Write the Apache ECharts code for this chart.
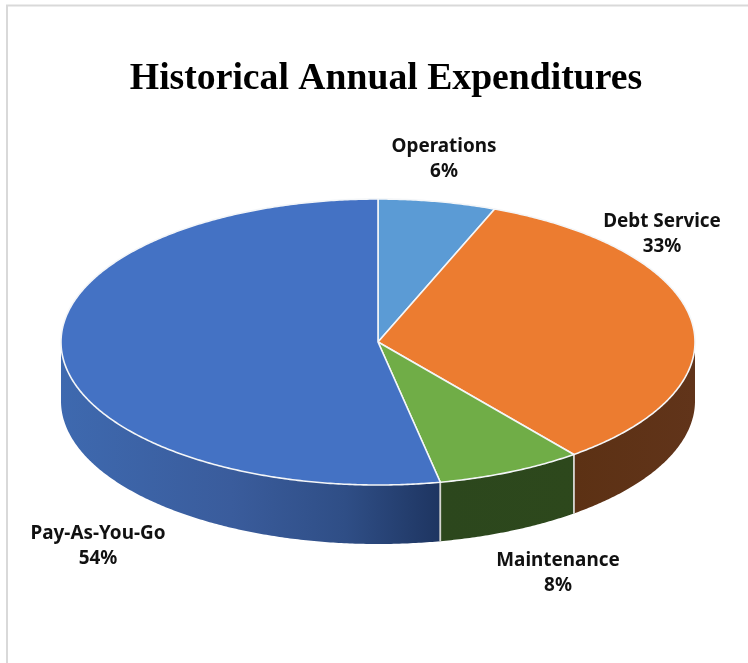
<!DOCTYPE html>
<html><head><meta charset="utf-8">
<style>html,body{margin:0;padding:0;background:#fff}#c{width:748px;height:663px}</style>
<script src="https://cdn.jsdelivr.net/npm/echarts@6/dist/echarts.min.js"></script>
</head><body><div id="c"></div>
<script>
const categories = ['Operations', 'Debt Service', 'Maintenance', 'Pay-As-You-Go'];
// slice sizes
const sliceValues = [6.0, 33.4, 7.45, 53.15];
// percentages as printed on the chart
const printedPercent = ['6%', '33%', '8%', '54%'];
const titleText = 'Historical Annual Expenditures';

const topColors = ['#5B9BD5', '#EC7C30', '#70AD47', '#4472C4'];
// side-wall gradient stops, left to right on screen
const sideStops = [
  [[0, '#3A5F9E'], [1, '#34578F']],
  [[0, '#5C3114'], [1, '#61341A']],
  [[0, '#2C471D'], [1, '#2D481C']],
  [[0, '#3E69AF'], [0.45, '#3A5C9C'], [0.75, '#2F4E86'], [1, '#1E3561']]
];
const CX = 378, CY = 342, RX = 317, RY = 143, DEPTH = 59;
const labelAt = [[444, 159], [662, 234], [558, 573], [98, 546]];

const pt = (deg, dy) => {
  const r = deg * Math.PI / 180;
  return [CX + RX * Math.sin(r), CY - RY * Math.cos(r) + (dy || 0)];
};
const total = sliceValues.reduce((a, b) => a + b, 0);
const arc = (a, b, dy) => {
  const out = [];
  const n = Math.max(2, Math.ceil((b - a) / 0.5));
  for (let i = 0; i <= n; i++) out.push(pt(a + (b - a) * i / n, dy));
  return out;
};

function renderItem(params, api) {
  const i = params.dataIndex;
  let acc = 0;
  for (let k = 0; k < i; k++) acc += sliceValues[k];
  const a = acc / total * 360, b = (acc + api.value(0)) / total * 360;
  const children = [];
  const sa = Math.max(a, 90), sb = Math.min(b, 270);
  if (sb > sa) {
    const front = arc(sa, sb, 0), back = arc(sa, sb, DEPTH).reverse();
    const x0 = pt(sa)[0], x1 = pt(sb)[0];
    children.push({
      type: 'polygon', z2: 1,
      shape: { points: front.concat(back) },
      style: {
        fill: new echarts.graphic.LinearGradient(
          Math.min(x0, x1), 0, Math.max(x0, x1), 0,
          sideStops[i].map(s => ({ offset: s[0], color: s[1] })), true),
        stroke: null
      }
    });
    [sa, sb].forEach(d => {
      if (d > 90 && d < 270) {
        const p = pt(d), q = pt(d, DEPTH);
        children.push({
          type: 'line', z2: 2,
          shape: { x1: p[0], y1: p[1], x2: q[0], y2: q[1] },
          style: { stroke: '#d4d4d0', lineWidth: 1.5 }
        });
      }
    });
  }
  children.push({
    type: 'polygon', z2: 5,
    shape: { points: [[CX, CY]].concat(arc(a, b, 0)) },
    style: { fill: topColors[i], stroke: '#f4f6f8', lineWidth: 1.6, lineJoin: 'round' }
  });
  children.push({
    type: 'text', z2: 10,
    x: labelAt[i][0], y: labelAt[i][1],
    style: {
      text: categories[i] + '\n' + printedPercent[i],
      fill: '#111',
      font: '700 18.9px "Noto Sans"',
      lineHeight: 25,
      align: 'center', verticalAlign: 'middle'
    }
  });
  return { type: 'group', children };
}

const chart = echarts.init(document.getElementById('c'), null, { renderer: 'canvas' });
chart.setOption({
  backgroundColor: '#fff',
  animation: false,
  title: {
    text: titleText, left: 381, top: 55, textAlign: 'center',
    textStyle: { fontFamily: 'Liberation Serif', fontWeight: 'bold', fontSize: 37.7, color: '#000' }
  },
  graphic: [
    { type: 'line', shape: { x1: 6, y1: 5.5, x2: 748, y2: 5.5 }, style: { stroke: '#d9d9d9', lineWidth: 2 } },
    { type: 'line', shape: { x1: 7, y1: 5, x2: 7, y2: 663 }, style: { stroke: '#d9d9d9', lineWidth: 2 } }
  ],
  series: [{
    type: 'custom',
    coordinateSystem: 'none',
    renderItem,
    clip: false,
    data: sliceValues.map((v, i) => ({ name: categories[i], value: [v] }))
  }]
});
</script></body></html>
